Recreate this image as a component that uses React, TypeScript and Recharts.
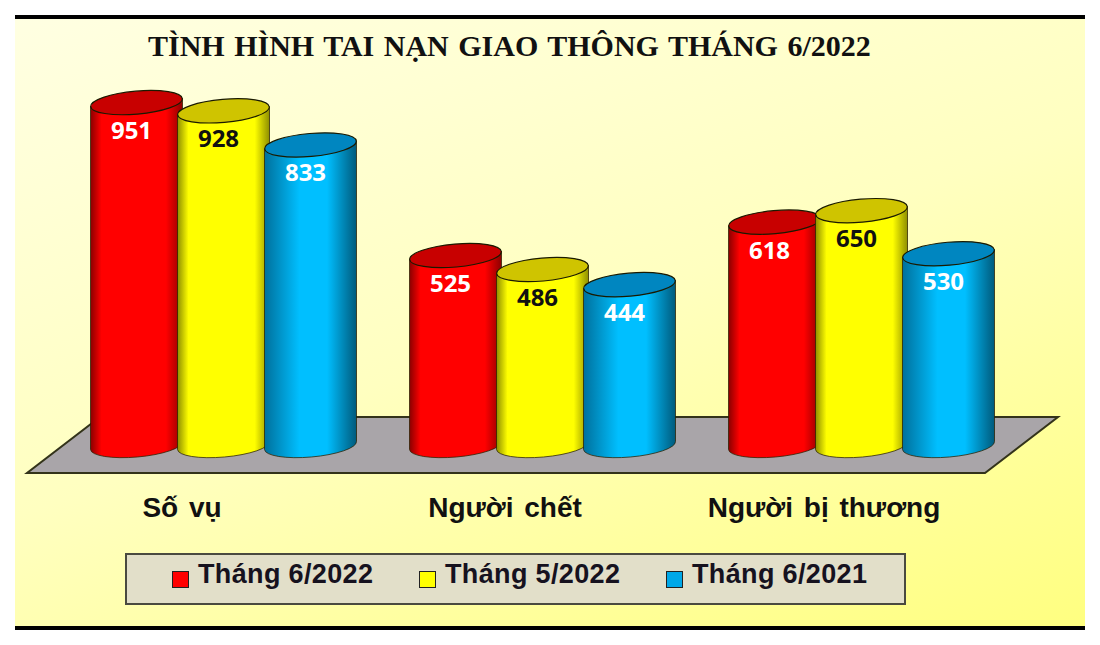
import React from "react";
import { BarChart, Bar, XAxis, YAxis, Legend, LabelList } from "recharts";

const categories = ["Số vụ", "Người chết", "Người bị thương"];
const thang6_2022 = [951, 525, 618];
const thang5_2022 = [928, 486, 650];
const thang6_2021 = [833, 444, 530];
const seriesNames = ["Tháng 6/2022", "Tháng 5/2022", "Tháng 6/2021"];
const title = "TÌNH HÌNH TAI NẠN GIAO THÔNG THÁNG 6/2022";

const rows = categories.map((name, i) => ({
  name,
  a: thang6_2022[i],
  b: thang5_2022[i],
  c: thang6_2021[i],
}));

const palettes = [
  { id: "cylRed", edgeL: "#8a0000", mid: "#ff0000", edgeR: "#8c0000", s1: "12%", s2: "82%", top: "#c80000", swatch: "#ff0000", label: "#ffffff" },
  { id: "cylYellow", edgeL: "#8f8f00", mid: "#ffff00", edgeR: "#8f8f00", s1: "12%", s2: "84%", top: "#cfc400", swatch: "#ffff00", label: "#111111" },
  { id: "cylBlue", edgeL: "#00709c", mid: "#00bfff", edgeR: "#005a7c", s1: "38%", s2: "68%", top: "#0086c0", swatch: "#00a8e8", label: "#ffffff" },
];

const TILT = -5;

function Cylinder(props: any) {
  const { x, y, width, height, pal } = props;
  const rx = width / 2;
  const ry = 11.5;
  const cx = x + rx;
  const topY = y - 1.5;
  const dy = rx * Math.tan((TILT * Math.PI) / 180);
  const b = y + height;
  const d = `M ${x} ${topY - dy} L ${x} ${b - dy} A ${rx} ${ry} ${TILT} 0 0 ${x + width} ${b + dy} L ${x + width} ${topY + dy} Z`;
  return (
    <g>
      <path d={d} fill={`url(#${pal.id})`} stroke="#2a2000" strokeOpacity={0.75} strokeWidth={1} />
      <ellipse
        cx={cx}
        cy={topY}
        rx={rx}
        ry={ry}
        transform={`rotate(${TILT} ${cx} ${topY})`}
        fill={pal.top}
        stroke="#1a1a00"
        strokeWidth={1.2}
      />
    </g>
  );
}

function ValueLabel(props: any) {
  const { x, y, width, value, color } = props;
  return (
    <text
      x={x + width / 2 - 5}
      y={y + 35}
      textAnchor="middle"
      fontFamily="'Noto Sans', sans-serif"
      fontWeight={700}
      fontSize={24}
      fill={color}
    >
      {value}
    </text>
  );
}

function CategoryTick(props: any) {
  const { x, payload, index } = props;
  return (
    <text
      x={x - (index === 0 ? 41 : 37)}
      y={517}
      textAnchor="middle"
      fontFamily="'Liberation Sans', Arial, sans-serif"
      fontWeight={700}
      fontSize={28}
      wordSpacing={3}
      fill="#111111"
    >
      {payload.value}
    </text>
  );
}

function LegendBox() {
  return (
    <div
      style={{
        boxSizing: "border-box",
        width: 781,
        height: 52,
        background: "#e2dfc9",
        border: "2px solid #4a4a40",
        display: "flex",
        paddingLeft: 45,
      }}
    >
      {seriesNames.map((n, i) => (
        <div key={n} style={{ width: 247, flex: "none", position: "relative", height: "100%" }}>
          <div
            style={{
              position: "absolute",
              left: 0,
              top: 16,
              width: 17,
              height: 17,
              boxSizing: "border-box",
              background: palettes[i].swatch,
              border: "1.5px solid #222",
            }}
          />
          <span
            style={{
              position: "absolute",
              left: 26,
              top: 3,
              whiteSpace: "nowrap",
              fontFamily: "'Liberation Sans', Arial, sans-serif",
              fontWeight: 700,
              fontSize: 27,
              letterSpacing: 0.35,
              lineHeight: "32px",
              color: "#16121e",
            }}
          >
            {n}
          </span>
        </div>
      ))}
    </div>
  );
}

export default function App() {
  const series = [
    { key: "a", pal: palettes[0], name: seriesNames[0] },
    { key: "b", pal: palettes[1], name: seriesNames[1] },
    { key: "c", pal: palettes[2], name: seriesNames[2] },
  ];
  return (
    <div style={{ position: "absolute", left: 0, top: 0, width: 1100, height: 645, background: "#ffffff", overflow: "hidden" }}>
      <div
        style={{
          position: "absolute",
          left: 15,
          top: 15,
          width: 1070,
          height: 615,
          boxSizing: "border-box",
          borderTop: "4px solid #000",
          borderBottom: "4px solid #000",
          background: "linear-gradient(160deg, #ffffe2 0%, #ffffc0 50%, #ffff80 100%)",
        }}
      />
      <svg width={1100} height={645} style={{ position: "absolute", left: 0, top: 0 }}>
        <polygon points="27,473 985,473 1058,417 100,417" fill="#a9a5a9" stroke="#33331a" strokeWidth={2} />
      </svg>
      <div
        style={{
          position: "absolute",
          left: 148,
          top: 28,
          whiteSpace: "nowrap",
          fontFamily: "'Liberation Serif', 'Times New Roman', serif",
          fontWeight: 700,
          fontSize: 30,
          wordSpacing: 2,
          lineHeight: "36px",
          color: "#111",
        }}
      >
        {title}
      </div>
      <div style={{ position: "absolute", left: 0, top: 0 }}>
        <BarChart
          width={1100}
          height={645}
          data={rows}
          barSize={92}
          barGap={-5}
          barCategoryGap={0}
          margin={{ top: 86.5, right: 79.5, bottom: 87.5, left: 63.5 }}
        >
          <XAxis dataKey="name" height={60} axisLine={false} tickLine={false} tick={<CategoryTick />} interval={0} />
          <YAxis hide domain={[0, 1000]} />
          <Legend
            verticalAlign="bottom"
            height={51}
            content={<LegendBox />}
            wrapperStyle={{ position: "absolute", left: 125, top: 553, width: 781, height: 52, bottom: "auto" }}
          />
          {series.map((s) => (
            <Bar
              key={s.key}
              dataKey={s.key}
              name={s.name}
              isAnimationActive={false}
              shape={(p: any) => <Cylinder {...p} pal={s.pal} />}
            >
              <LabelList dataKey={s.key} content={(p: any) => <ValueLabel {...p} color={s.pal.label} />} />
            </Bar>
          ))}
          <defs>
            {palettes.map((p) => (
              <linearGradient key={p.id} id={p.id} x1="0" y1="0" x2="1" y2="0">
                <stop offset="0%" stopColor={p.edgeL} />
                <stop offset={p.s1} stopColor={p.mid} />
                <stop offset={p.s2} stopColor={p.mid} />
                <stop offset="100%" stopColor={p.edgeR} />
              </linearGradient>
            ))}
          </defs>
        </BarChart>
      </div>
    </div>
  );
}
